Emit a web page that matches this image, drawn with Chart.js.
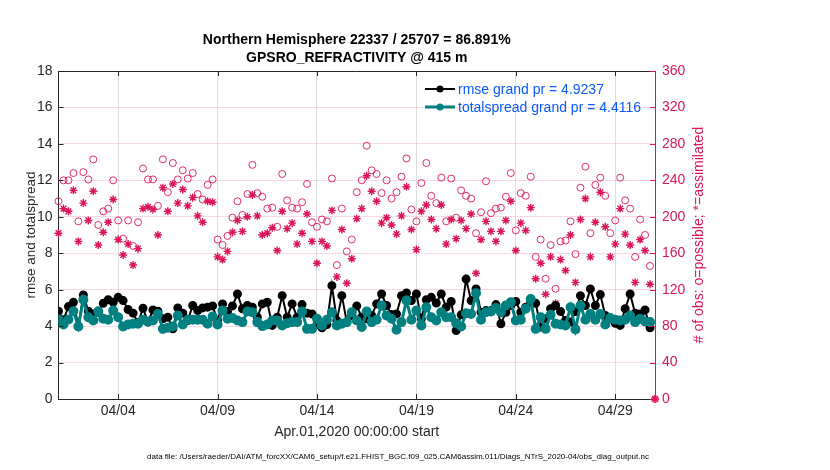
<!DOCTYPE html>
<html>
<head>
<meta charset="utf-8">
<style>
  html, body { margin: 0; padding: 0; background: #fff; }
  #canvas { display: block; }
</style>
<script src="https://cdn.jsdelivr.net/npm/chart.js@4.4.1/dist/chart.umd.min.js"></script>
</head>
<body>
<canvas id="canvas" width="830" height="470"></canvas>
<script>
// 6-hourly bins starting Apr.01,2020 00:00, last bin (May 1 00:00) has no obs
const stepDays = 0.25

const xTickDays = [3, 8, 13, 18, 23, 28]
const xTickLabels = ['04/04', '04/09', '04/14', '04/19', '04/24', '04/29']

const rmse = [
  4.82, 4.35, 5.07, 5.31, 4.00, 5.71, 4.82, 4.67, 4.76, 5.25,
  5.45, 5.31, 5.58, 5.40, 4.91, 4.71, 4.18, 4.98, 4.22, 4.89,
  4.82, 4.40, 4.49, 3.85, 5.00, 4.71, 4.31, 5.13, 4.85, 5.00,
  5.04, 5.11, 4.31, 5.22, 4.80, 5.11, 5.76, 4.95, 5.13, 5.04,
  4.49, 5.22, 5.31, 4.04, 4.49, 5.67, 4.49, 5.22, 4.49, 5.18,
  4.71, 4.67, 4.09, 3.91, 4.09, 6.22, 4.31, 5.67, 4.22, 4.58,
  5.11, 4.49, 4.40, 4.58, 5.22, 5.76, 5.13, 4.64, 4.67, 5.67,
  5.82, 5.40, 5.76, 4.40, 5.45, 5.58, 5.27, 5.76, 5.04, 5.35,
  3.76, 4.62, 6.58, 5.40, 6.04, 4.76, 4.85, 4.85, 5.18, 4.13,
  4.76, 5.13, 5.35, 4.76, 5.04, 5.31, 5.25, 3.95, 4.40, 4.95,
  5.13, 4.80, 4.31, 4.22, 4.80, 5.67, 5.13, 6.04, 5.13, 5.73,
  4.58, 4.40, 4.16, 4.04, 4.95, 5.76, 4.71, 4.67, 4.89, 3.91,
  null
]

const totalspread = [
  4.36, 4.09, 4.36, 4.82, 3.98, 5.45, 4.49, 4.31, 4.82, 4.40,
  4.35, 4.85, 4.49, 3.98, 4.09, 4.13, 4.13, 4.35, 4.25, 4.31,
  4.67, 3.85, 3.91, 3.98, 4.58, 4.09, 4.35, 4.35, 4.35, 4.35,
  4.13, 4.53, 4.09, 4.85, 4.40, 4.45, 4.31, 4.22, 4.80, 4.76,
  4.22, 4.00, 4.09, 4.31, 4.31, 4.04, 4.16, 4.22, 4.22, 4.80,
  3.85, 3.85, 4.40, 4.04, 4.35, 4.76, 4.04, 4.13, 4.22, 4.76,
  4.31, 3.95, 4.80, 4.22, 4.35, 5.13, 4.58, 4.40, 3.80, 4.22,
  5.40, 4.35, 4.85, 4.04, 5.04, 4.49, 4.31, 4.76, 4.49, 4.49,
  4.16, 3.98, 4.71, 4.67, 5.80, 4.35, 4.76, 4.80, 5.00, 4.76,
  5.13, 5.31, 4.31, 4.35, 4.95, 5.49, 3.85, 4.49, 3.85, 4.62,
  4.13, 4.09, 4.04, 5.04, 3.82, 5.13, 4.35, 4.67, 4.35, 4.67,
  4.09, 4.45, 4.35, 4.31, 4.35, 4.58, 4.22, 4.40, 4.25, 4.22,
  null
]

const obsPossible = [
  217, 240, 240, 248, 195, 249, 241, 263, 191, 206,
  209, 240, 196, 176, 196, 168, 194, 253, 241, 241,
  212, 263, 227, 259, 241, 251, 242, 248, 225, 219,
  235, 241, 175, 169, 179, 199, 217, 202, 225, 257,
  226, 222, 209, 210, 189, 247, 218, 210, 209, 216,
  236, 194, 189, 197, 195, 242, 147, 209, 162, 175,
  227, 240, 278, 251, 247, 226, 240, 220, 227, 244,
  264, 208, 195, 237, 259, 223, 215, 243, 195, 242,
  199, 229, 223, 220, 182, 205, 239, 204, 209, 210,
  222, 248, 185, 226, 223, 244, 156, 175, 132, 169,
  121, 173, 174, 195, 159, 232, 255, 182, 235, 243,
  223, 182, 196, 243, 218, 209, 156, 197, 180, 146,
  0
]

const obsAssimilated = [
  182, 209, 206, 229, 173, 215, 196, 228, 169, 183,
  194, 219, 175, 158, 170, 147, 165, 209, 211, 208,
  180, 232, 206, 236, 215, 230, 212, 221, 201, 194,
  217, 216, 156, 153, 162, 183, 196, 184, 200, 224,
  201, 180, 182, 188, 163, 206, 187, 193, 170, 182,
  203, 173, 149, 173, 168, 207, 134, 186, 127, 154,
  198, 209, 245, 228, 217, 193, 199, 191, 181, 201,
  233, 186, 164, 206, 213, 197, 187, 213, 170, 197,
  176, 196, 187, 203, 138, 175, 195, 184, 173, 184,
  196, 217, 163, 193, 185, 210, 132, 149, 115, 156,
  105, 153, 141, 180, 128, 197, 220, 156, 194, 227,
  189, 156, 170, 209, 181, 169, 128, 175, 163, 126,
  0
]

const titleLines = ['Northern Hemisphere 22337 / 25707 = 86.891%', 'GPSRO_REFRACTIVITY @ 415 m']
const legendLabels = ['rmse grand pr = 4.9237', 'totalspread grand pr = 4.4116']
const footerText = 'data file: /Users/raeder/DAI/ATM_forcXX/CAM6_setup/f.e21.FHIST_BGC.f09_025.CAM6assim.011/Diags_NTrS_2020-04/obs_diag_output.nc'

document.addEventListener("DOMContentLoaded", () => {

const canvas = document.getElementById('canvas');
const ctx = canvas.getContext('2d');

const FONT = "'Liberation Sans', Arial, Helvetica, sans-serif"
const ink = '#262626'
const obsColor = 'rgb(218, 22, 88)'
const teal = 'rgb(0, 128, 128)'
const legendBlue = 'rgb(10, 90, 250)'

const toPoints = (values) => values.map((v, i) => ({ x: i * stepDays, y: v }))

// frame, inward tick marks, right axis label, legend and file name
const extras = {
    id: 'extras',
    afterDraw(chart) {
        const c = chart.ctx
        const a = chart.chartArea
        const { x, y, y2 } = chart.scales
        const seg = (x0, y0, x1, y1) => { c.beginPath(); c.moveTo(x0, y0); c.lineTo(x1, y1); c.stroke() }

        c.save()
        c.lineWidth = 1
        c.strokeStyle = ink
        seg(a.left, a.top + 0.5, a.right, a.top + 0.5)
        x.ticks.forEach(t => {
            const px = Math.round(x.getPixelForValue(t.value)) + 0.5
            seg(px, a.bottom, px, a.bottom - 5)
            seg(px, a.top, px, a.top + 5)
        })
        y.ticks.forEach(t => {
            const py = Math.round(y.getPixelForValue(t.value)) + 0.5
            seg(a.left, py, a.left + 5, py)
        })
        c.strokeStyle = obsColor
        y2.ticks.forEach(t => {
            const py = Math.round(y2.getPixelForValue(t.value)) + 0.5
            seg(a.right, py, a.right - 5, py)
        })

        // right axis title, reading bottom to top
        c.save()
        c.translate(699, (a.top + a.bottom) / 2)
        c.rotate(-Math.PI / 2)
        c.fillStyle = obsColor
        c.font = '14px ' + FONT
        c.textAlign = 'center'
        c.textBaseline = 'middle'
        c.fillText('# of obs: o=possible; *=assimilated', 0, 0)
        c.restore()

        // legend
        const rows = [89, 107]
        chart.data.datasets.slice(0, 2).forEach((ds, k) => {
            const ly = rows[k]
            c.strokeStyle = ds.borderColor
            c.lineWidth = ds.borderWidth
            seg(425, ly, 455, ly)
            c.fillStyle = ds.pointBackgroundColor
            c.beginPath(); c.arc(440, ly, 3.5, 0, Math.PI * 2); c.fill()
            c.fillStyle = legendBlue
            c.font = '14px ' + FONT
            c.textAlign = 'left'
            c.textBaseline = 'middle'
            c.fillText(ds.label, 458, ly + 1)
        })

        // data file line
        c.fillStyle = '#000'
        c.font = '8px ' + FONT
        c.textAlign = 'center'
        c.textBaseline = 'middle'
        c.fillText(footerText, 398, 457)
        c.restore()
    }
}

const myChart = new Chart(ctx, {
    type: 'line',
    data: {
        datasets: [{
            label: legendLabels[0],
            data: toPoints(rmse),
            yAxisID: 'y',
            borderColor: '#000',
            borderWidth: 2,
            pointBackgroundColor: '#000',
            pointBorderColor: '#000',
            pointRadius: 3.5,
            order: 2
        }, {
            label: legendLabels[1],
            data: toPoints(totalspread),
            yAxisID: 'y',
            borderColor: teal,
            borderWidth: 3,
            pointBackgroundColor: teal,
            pointBorderColor: teal,
            pointRadius: 3.5,
            order: 1
        }, {
            label: 'possible',
            data: toPoints(obsPossible),
            yAxisID: 'y2',
            showLine: false,
            pointStyle: 'circle',
            pointRadius: 3.5,
            pointBorderWidth: 0.9,
            pointBorderColor: obsColor,
            pointBackgroundColor: 'rgba(0,0,0,0)',
            clip: false,
            order: 4
        }, {
            label: 'assimilated',
            data: toPoints(obsAssimilated),
            yAxisID: 'y2',
            showLine: false,
            pointStyle: 'star',
            pointRadius: 4,
            pointBorderWidth: 1.4,
            pointBorderColor: obsColor,
            pointBackgroundColor: obsColor,
            clip: false,
            order: 3
        }]
    },
    options: {
        responsive: false,
        animation: false,
        devicePixelRatio: 1,
        layout: { padding: 0 },
        elements: { line: { tension: 0 } },
        plugins: {
            legend: { display: false },
            tooltip: { enabled: false },
            title: {
                display: true,
                fullSize: false,
                text: titleLines,
                color: '#000',
                font: { family: FONT, size: 14, weight: 'bold', lineHeight: 1.286 },
                padding: { top: 31, bottom: 4 }
            }
        },
        scales: {
            x: {
                type: 'linear',
                position: 'bottom',
                min: 0,
                max: 30,
                afterBuildTicks: (scale) => { scale.ticks = xTickDays.map(v => ({ value: v })) },
                afterFit: (scale) => { scale.height = 71 },
                ticks: {
                    callback: (value, index) => xTickLabels[index],
                    color: ink,
                    padding: 4,
                    maxRotation: 0,
                    font: { family: FONT, size: 14 }
                },
                grid: { color: 'rgba(0,0,0,0.13)', drawTicks: false },
                border: { color: ink },
                title: {
                    display: true,
                    text: 'Apr.01,2020 00:00:00 start',
                    color: ink,
                    font: { family: FONT, size: 14 },
                    padding: { top: 0, bottom: 29.5 }
                }
            },
            y: {
                position: 'left',
                min: 0,
                max: 18,
                afterFit: (scale) => { scale.width = 58.5 },
                ticks: {
                    stepSize: 2,
                    color: ink,
                    padding: 6,
                    font: { family: FONT, size: 14 }
                },
                grid: { drawOnChartArea: false, drawTicks: false },
                border: { color: ink },
                title: {
                    display: true,
                    text: 'rmse and totalspread',
                    color: ink,
                    font: { family: FONT, size: 13.5 },
                    padding: { top: 23, bottom: 0 }
                }
            },
            y2: {
                position: 'right',
                min: 0,
                max: 360,
                afterFit: (scale) => { scale.width = 175 },
                ticks: {
                    stepSize: 40,
                    color: obsColor,
                    padding: 7,
                    font: { family: FONT, size: 14 }
                },
                grid: { color: 'rgba(218,22,88,0.16)', drawTicks: false },
                border: { color: obsColor }
            }
        }
    },
    plugins: [extras]
})

})
</script>
</body>
</html>
